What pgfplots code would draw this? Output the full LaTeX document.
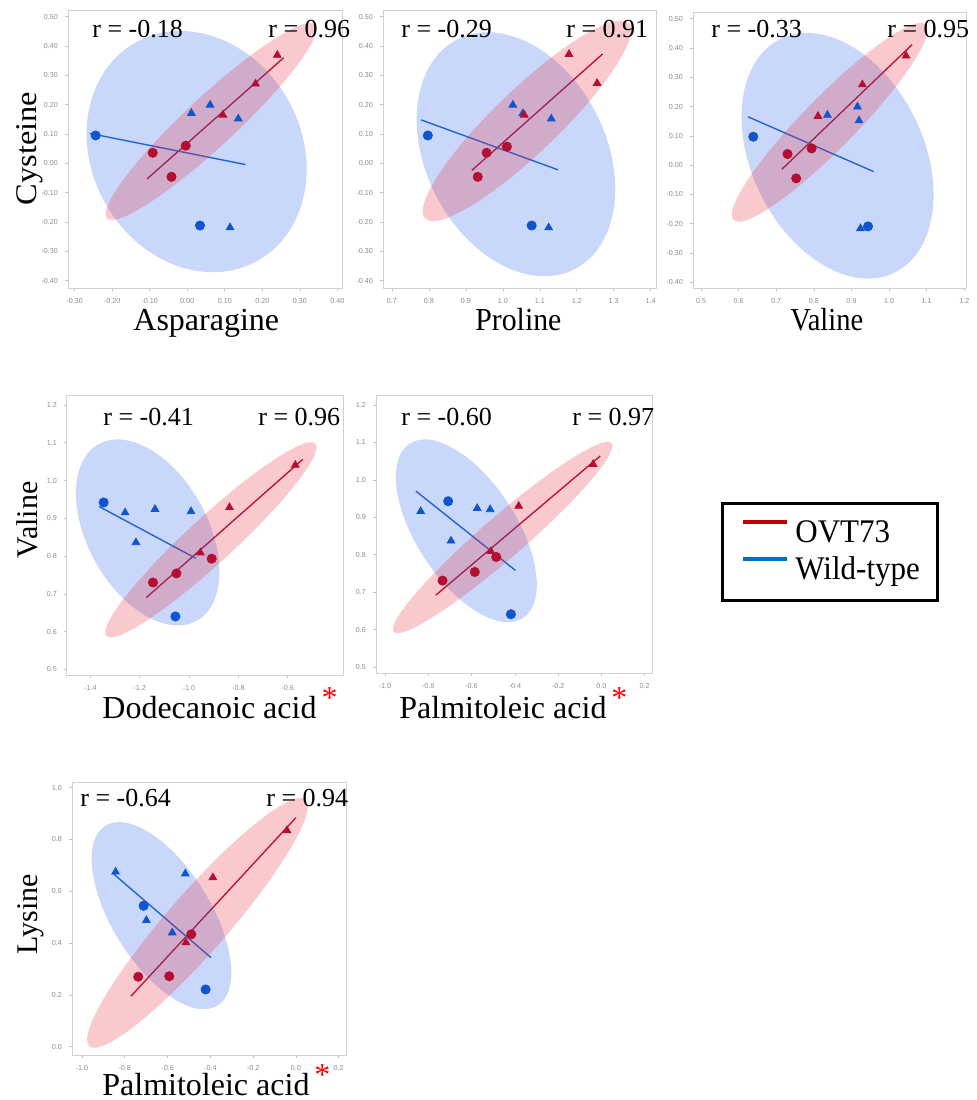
\documentclass[border=0pt]{standalone}
\usepackage{pgfplots}
\pgfplotsset{compat=1.18}
\usepackage{fontspec}
\setmainfont{Liberation Serif}
\newfontfamily\tickfont{Liberation Sans}
\usepackage{graphicx}
\definecolor{mred}{RGB}{180,15,50}
\definecolor{mblue}{RGB}{15,85,205}
\definecolor{lred}{RGB}{170,20,45}
\definecolor{lblue}{RGB}{30,100,200}
\definecolor{ered}{RGB}{235,40,60}
\definecolor{eblue}{RGB}{40,100,235}
\definecolor{legred}{RGB}{192,0,0}
\definecolor{legblue}{RGB}{0,112,192}
\pgfplotsset{
  panel/.style={scale only axis, anchor=south west,
    axis line style={draw=black!18, line width=0.5pt},
    tick pos=left, tick align=outside, major tick length=1.5pt,
    tick style={draw=black!25, line width=0.3pt},
    ticklabel style={font=\tickfont\fontsize{3.6}{4}\selectfont, text=black!45},
    /pgf/number format/assume math mode=true, scaled ticks=false},
  xp2/.style={xticklabel style={/pgf/number format/fixed, /pgf/number format/fixed zerofill, /pgf/number format/precision=2}},
  yp2/.style={yticklabel style={/pgf/number format/fixed, /pgf/number format/fixed zerofill, /pgf/number format/precision=2}},
  xp1/.style={xticklabel style={/pgf/number format/fixed, /pgf/number format/fixed zerofill, /pgf/number format/precision=1}},
  yp1/.style={yticklabel style={/pgf/number format/fixed, /pgf/number format/fixed zerofill, /pgf/number format/precision=1}},
  redc/.style={only marks, mark=*, mark size=2.3pt, color=mred},
  redt/.style={only marks, mark=triangle*, mark size=2.2pt, color=mred},
  bluec/.style={only marks, mark=*, mark size=2.3pt, color=mblue},
  bluet/.style={only marks, mark=triangle*, mark size=2.2pt, color=mblue},
  redl/.style={no marks, lred, line width=0.7pt},
  bluel/.style={no marks, lblue, line width=0.7pt},
}
\tikzset{
  rtext/.style={anchor=base west, inner sep=0pt, font=\fontsize{13}{13}\selectfont},
  xlab/.style={anchor=base west, inner sep=0pt, font=\fontsize{16}{16}\selectfont},
  ylab/.style={anchor=base, inner sep=0pt, rotate=90, font=\fontsize{15}{15}\selectfont},
}
\newcommand{\redast}{\hspace{2.5pt}\raisebox{5pt}{\textcolor{red}{*}}}
\newcommand{\ellB}[5]{\fill[eblue, fill opacity=0.25, rotate around={#5:(axis cs:#1,#2)}] (axis cs:#1,#2) ellipse [x radius=#3, y radius=#4];}
\newcommand{\ellR}[5]{\fill[ered, fill opacity=0.25, rotate around={#5:(axis cs:#1,#2)}] (axis cs:#1,#2) ellipse [x radius=#3, y radius=#4];}
\begin{document}
\begin{tikzpicture}
\path[use as bounding box] (0pt,0pt) rectangle (488.5pt,-550pt);

% Panel 1: Cysteine vs Asparagine
\begin{axis}[panel, xp2, yp2, at={(34pt,-144pt)}, width=137.5pt, height=139pt,
  xmin=-0.3178, xmax=0.4151, ymin=-0.425, ymax=0.5227,
  xtick={-0.3,-0.2,-0.1,0,0.1,0.2,0.3,0.4},
  ytick={-0.4,-0.3,-0.2,-0.1,0,0.1,0.2,0.3,0.4,0.5}]
\addplot[redl] coordinates {(-0.107,-0.053) (0.257,0.360)};
\addplot[bluel] coordinates {(-0.260,0.102) (0.155,-0.004)};
\addplot[redc] coordinates {(-0.004,0.060) (-0.092,0.036) (-0.042,-0.046)};
\addplot[redt] coordinates {(0.240,0.369) (0.182,0.271) (0.095,0.165)};
\addplot[bluec] coordinates {(-0.244,0.095) (0.034,-0.212)};
\addplot[bluet] coordinates {(0.011,0.171) (0.061,0.199) (0.136,0.152) (0.114,-0.219)};
\ellB{0.025}{0.040}{62.5pt}{52.5pt}{-61}
\ellR{0.063}{0.1425}{71pt}{12.5pt}{42.9}
\end{axis}

% Panel 2: Cysteine vs Proline
\begin{axis}[panel, xp1, yp2, at={(191.5pt,-144pt)}, width=136.5pt, height=139pt,
  xmin=0.6757, xmax=1.4144, ymin=-0.425, ymax=0.5227,
  xtick={0.7,0.8,0.9,1.0,1.1,1.2,1.3,1.4},
  ytick={-0.4,-0.3,-0.2,-0.1,0,0.1,0.2,0.3,0.4,0.5}]
\addplot[redl] coordinates {(0.916,-0.024) (1.270,0.373)};
\addplot[bluel] coordinates {(0.779,0.148) (1.149,-0.022)};
\addplot[redc] coordinates {(1.011,0.057) (0.956,0.036) (0.932,-0.046)};
\addplot[bluec] coordinates {(0.797,0.095) (1.078,-0.212)};
\addplot[bluet] coordinates {(1.027,0.199) (1.054,0.170) (1.131,0.152) (1.124,-0.219)};
\addplot[redt] coordinates {(1.179,0.372) (1.255,0.273) (1.058,0.165)};
\ellB{1.0355}{0.031}{64.5pt}{45pt}{-63}
\ellR{1.065}{0.145}{70.5pt}{16pt}{43.8}
\end{axis}

% Panel 3: Cysteine vs Valine
\begin{axis}[panel, xp1, yp2, at={(346.5pt,-144pt)}, width=137pt, height=138pt,
  xmin=0.4787, xmax=1.2071, ymin=-0.4193, ymax=0.5227,
  xtick={0.5,0.6,0.7,0.8,0.9,1.0,1.1,1.2},
  ytick={-0.4,-0.3,-0.2,-0.1,0,0.1,0.2,0.3,0.4,0.5}]
\addplot[redl] coordinates {(0.715,-0.014) (1.061,0.411)};
\addplot[bluel] coordinates {(0.625,0.165) (0.959,-0.022)};
\addplot[redc] coordinates {(0.794,0.057) (0.730,0.038) (0.753,-0.045)};
\addplot[redt] coordinates {(1.045,0.373) (0.929,0.275) (0.811,0.167)};
\addplot[bluec] coordinates {(0.639,0.097) (0.944,-0.209)};
\addplot[bluet] coordinates {(0.836,0.171) (0.916,0.199) (0.920,0.152) (0.924,-0.216)};
\ellB{0.863}{0.032}{65pt}{43pt}{-64}
\ellR{0.842}{0.146}{68.5pt}{13pt}{45.5}
\end{axis}

% Panel 4: Valine vs Dodecanoic acid
\begin{axis}[panel, xp1, yp1, at={(33.5pt,-337.5pt)}, width=138pt, height=140pt,
  xmin=-1.4946, xmax=-0.3757, ymin=0.485, ymax=1.2265,
  xtick={-1.4,-1.2,-1.0,-0.8,-0.6},
  ytick={0.5,0.6,0.7,0.8,0.9,1.0,1.1,1.2}]
\addplot[redl] coordinates {(-1.173,0.690) (-0.539,1.056)};
\addplot[bluel] coordinates {(-1.364,0.931) (-0.972,0.794)};
\addplot[redc] coordinates {(-0.908,0.793) (-1.051,0.754) (-1.146,0.730)};
\addplot[redt] coordinates {(-0.569,1.041) (-0.836,0.929) (-0.954,0.809)};
\addplot[bluec] coordinates {(-1.346,0.942) (-1.055,0.640)};
\addplot[bluet] coordinates {(-1.259,0.915) (-1.138,0.924) (-0.992,0.918) (-1.215,0.836)};
\ellB{-1.1675}{0.8625}{50.5pt}{30pt}{-61}
\ellR{-0.911}{0.843}{71pt}{11.5pt}{42.6}
\end{axis}

% Panel 5: Valine vs Palmitoleic acid
\begin{axis}[panel, xp1, yp1, at={(188pt,-336.5pt)}, width=138.5pt, height=139pt,
  xmin=-1.0415, xmax=0.2385, ymin=0.484, ymax=1.2268,
  xtick={-1.0,-0.8,-0.6,-0.4,-0.2,0,0.2},
  ytick={0.5,0.6,0.7,0.8,0.9,1.0,1.1,1.2}]
\addplot[redl] coordinates {(-0.765,0.692) (-0.005,1.064)};
\addplot[bluel] coordinates {(-0.857,0.970) (-0.397,0.758)};
\addplot[redc] coordinates {(-0.486,0.794) (-0.585,0.754) (-0.734,0.731)};
\addplot[redt] coordinates {(-0.038,1.042) (-0.382,0.930) (-0.511,0.809)};
\addplot[bluec] coordinates {(-0.708,0.943) (-0.418,0.641)};
\addplot[bluet] coordinates {(-0.835,0.916) (-0.574,0.924) (-0.514,0.921) (-0.695,0.837)};
\ellB{-0.624}{0.864}{52pt}{25pt}{-57}
\ellR{-0.456}{0.846}{72pt}{10.5pt}{40.9}
\end{axis}

% Panel 6: Lysine vs Palmitoleic acid
\begin{axis}[panel, xp1, yp1, at={(36pt,-527.5pt)}, width=137.5pt, height=136.5pt,
  xmin=-1.0468, xmax=0.239, ymin=-0.0321, ymax=1.0219,
  xtick={-1.0,-0.8,-0.6,-0.4,-0.2,0,0.2},
  ytick={0,0.2,0.4,0.6,0.8,1.0}]
\addplot[redl] coordinates {(-0.771,0.195) (0.0,0.884)};
\addplot[bluel] coordinates {(-0.858,0.671) (-0.397,0.344)};
\addplot[redc] coordinates {(-0.489,0.434) (-0.592,0.272) (-0.737,0.270)};
\addplot[redt] coordinates {(-0.042,0.835) (-0.388,0.653) (-0.514,0.402)};
\addplot[bluec] coordinates {(-0.712,0.544) (-0.422,0.221)};
\addplot[bluet] coordinates {(-0.843,0.675) (-0.517,0.668) (-0.699,0.488) (-0.578,0.440)};
\ellB{-0.6285}{0.506}{53pt}{24.5pt}{-58}
\ellR{-0.460}{0.478}{82pt}{15pt}{48.8}
\end{axis}

% correlation texts
\node[rtext] at (46pt,-18.5pt) {r = -0.18};
\node[rtext] at (134pt,-18.5pt) {r = 0.96};
\node[rtext] at (200.5pt,-18.5pt) {r = -0.29};
\node[rtext] at (283pt,-18.5pt) {r = 0.91};
\node[rtext] at (355.5pt,-18.5pt) {r = -0.33};
\node[rtext] at (443.5pt,-18.5pt) {r = 0.95};
\node[rtext] at (51.5pt,-212.5pt) {r = -0.41};
\node[rtext] at (129pt,-212.5pt) {r = 0.96};
\node[rtext] at (200.5pt,-212.5pt) {r = -0.60};
\node[rtext] at (286pt,-212.5pt) {r = 0.97};
\node[rtext] at (40pt,-403pt) {r = -0.64};
\node[rtext] at (133pt,-403pt) {r = 0.94};

% axis labels
\node[xlab] at (66.5pt,-165pt) {Asparagine};
\node[xlab] at (237.5pt,-165pt) {\scalebox{0.93}[1]{Proline}};
\node[xlab] at (395pt,-165pt) {\scalebox{0.89}[1]{Valine}};
\node[xlab] at (51pt,-359pt) {Dodecanoic acid\redast};
\node[xlab] at (199.5pt,-359pt) {Palmitoleic acid\redast};
\node[xlab] at (51pt,-547.5pt) {Palmitoleic acid\redast};
\node[ylab] at (18pt,-74.25pt) {\scalebox{1.08}[1]{Cysteine}};
\node[ylab] at (19pt,-260pt) {Valine};
\node[ylab] at (19pt,-457pt) {Lysine};

% legend
\draw[line width=1.5pt] (361pt,-251.5pt) rectangle (468.5pt,-300pt);
\draw[legred, line width=2pt] (371.5pt,-261pt) -- (393.5pt,-261pt);
\draw[legblue, line width=2pt] (371.5pt,-279.5pt) -- (393.5pt,-279.5pt);
\node[anchor=base west, inner sep=0pt, font=\fontsize{16.5}{16.5}\selectfont] at (397.5pt,-271pt) {\scalebox{0.94}[1]{OVT73}};
\node[anchor=base west, inner sep=0pt, font=\fontsize{16.5}{16.5}\selectfont] at (397.5pt,-289.5pt) {\scalebox{0.94}[1]{Wild-type}};
\end{tikzpicture}
\end{document}
